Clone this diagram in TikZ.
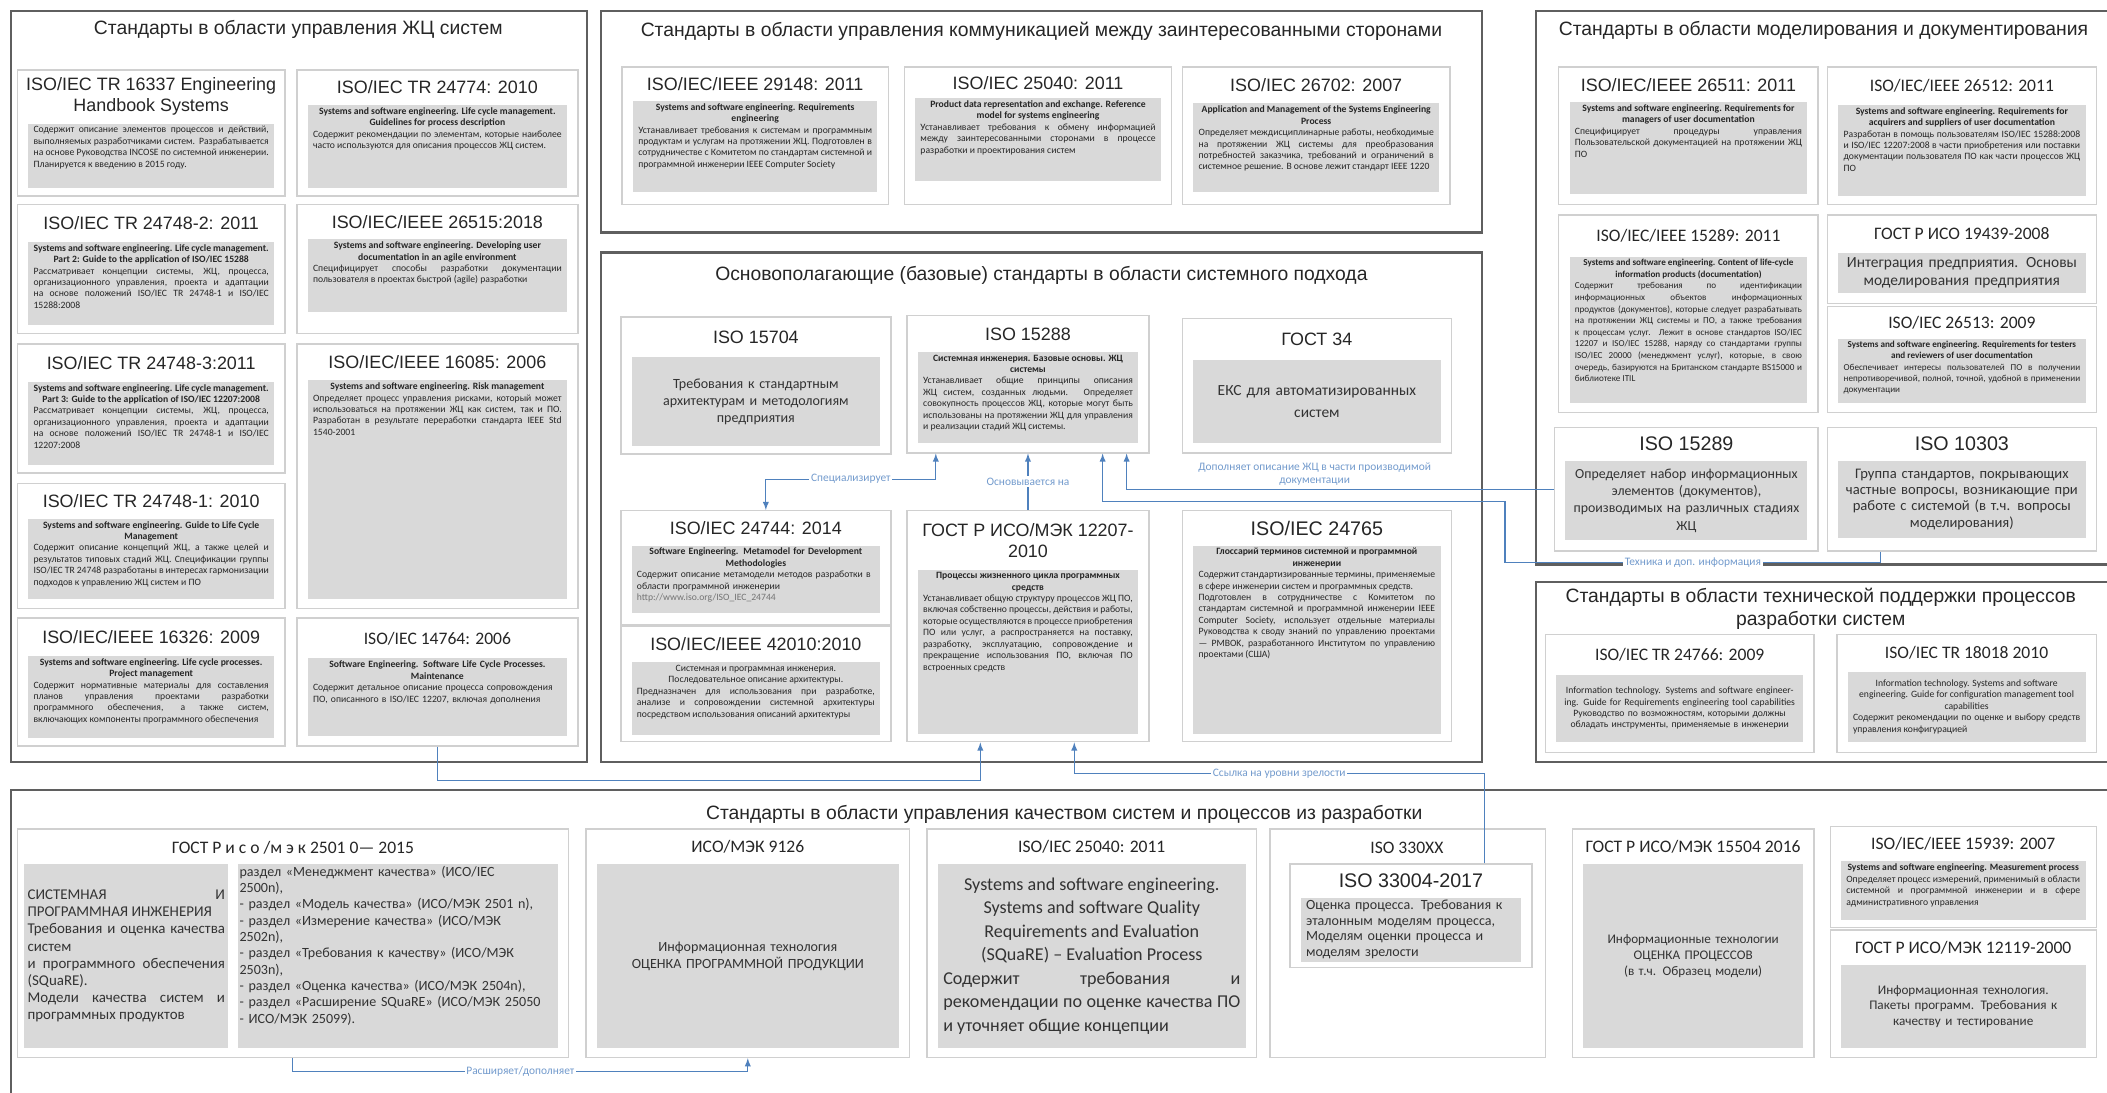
\documentclass[tikz,border=0pt]{standalone}
\usepackage{fontspec}
\setmainfont{Liberation Sans}
\newfontfamily\calfont{Carlito}
\usetikzlibrary{shapes,arrows,fit}

\definecolor{framegray}{RGB}{95,95,95}
\definecolor{boxgray}{RGB}{208,208,208}
\definecolor{descgray}{RGB}{217,217,217}
\definecolor{linkblue}{RGB}{79,129,189}
\definecolor{lblblue}{RGB}{115,155,205}

\tikzset{
  grp/.style={draw=framegray, line width=1.3pt},
  grptitle/.style={font=\fontsize{11}{13}\selectfont, text=black!85, align=center},
  stdframe/.style={draw=boxgray, line width=0.8pt, fill=white, inner sep=0pt},
  descr/.style={fill=descgray, inner sep=0pt},
  hdA/.style={font=\fontsize{10.2}{12}\selectfont, text=black!85, align=center},
  hdL/.style={font=\fontsize{11.2}{13}\selectfont, text=black!85, align=center},
  hdC/.style={font=\calfont\fontsize{10}{11.5}\selectfont, text=black!85, align=center},
  smalltext/.style={font=\calfont\fontsize{5.5}{6.5}\selectfont, align=justify, inner xsep=2.5pt, inner ysep=1.5pt, text=black!85},
  smallctr/.style={smalltext, align=center},
  midtext/.style={font=\calfont\fontsize{8}{9.8}\selectfont, align=center, inner sep=2.5pt, text=black!80},
  midlarge/.style={font=\calfont\fontsize{8.8}{10.6}\selectfont, align=center, inner sep=2.5pt, text=black!80},
  midsmall/.style={font=\calfont\fontsize{7.5}{9}\selectfont, align=center, inner sep=2.5pt, text=black!80},
  bigtext/.style={font=\calfont\fontsize{10.3}{13.4}\selectfont, align=justify, inner sep=2pt, text=black!80},
  listtext/.style={font=\calfont\fontsize{8}{9.3}\selectfont, align=left, inner sep=1pt, text=black!80},
  link/.style={draw=linkblue, line width=0.6pt, -latex},
  lbl/.style={font=\calfont\fontsize{6.5}{7.5}\selectfont, text=lblblue, fill=white, inner sep=1pt, align=center}
}

\newcommand{\hdline}[1]{{\centering\bfseries #1\par}}
\newcommand{\stdbox}[9]{%
  \node[stdframe, fit={(#2,#3) (#4,#5)}] (#1) {};
  \node[descr, fit={(#2+8,#6) (#4-8,#7)}] (#1g) {};
  \node[#8] (#1t) at ({(#2+#4)/2},{(#3+#6)/2}) {#9};
  \pgfmathsetmacro{\tw}{(#4-#2-24)*0.02688}}
\newcommand{\stdtext}[4]{%
  \node[text width=\tw cm, #3, anchor=#2] (#1b) at (#1g.#2) {#4};}

\begin{document}
\begin{tikzpicture}[x=0.02688cm, y=-0.02688cm]
\fill[white] (0,0) rectangle (1568,813);
\useasboundingbox (0,0) rectangle (1568,813);

\draw[grp] (8,8) rectangle (437,567);
\draw[grp] (447,8) rectangle (1103,173);
\draw[grp] (447,188) rectangle (1103,567);
\draw[grp] (1143,8) rectangle (1575,420);
\draw[grp] (1143,433) rectangle (1575,567);
\draw[grp] (8,588) rectangle (1580,830);

\node[grptitle] (g1) at (222,22) {Стандарты в области управления ЖЦ систем};
\node[grptitle] (g2) at (775,23) {Стандарты в области управления коммуникацией между заинтересованными сторонами};
\node[grptitle] (g3) at (775,205) {Основополагающие (базовые) стандарты в области системного подхода};
\node[grptitle] (g4) at (1357,23) {Стандарты в области моделирования и документирования};
\node[grptitle] (g5) at (1355,453) {Стандарты в области технической поддержки процессов\\разработки систем};
\node[grptitle] (g6) at (792,606) {Стандарты в области управления качеством систем и процессов из разработки};

\stdbox{i16337}{13}{52}{212}{146}{92}{140}{hdA}{ISO/IEC TR 16337 Engineering\\Handbook Systems}
\stdtext{i16337}{north}{smalltext}{Содержит описание элементов процессов и действий, выполняемых разработчиками систем. Разрабатывается на основе Руководства INCOSE по системной инженерии. Планируется к введению в 2015 году.}
\stdbox{i24774}{221}{52}{430}{146}{78}{140}{hdA}{ISO/IEC TR 24774: 2010}
\stdtext{i24774}{north}{smalltext}{\hdline{Systems and software engineering. Life cycle management. Guidelines for process description}Содержит рекомендации по элементам, которые наиболее часто используются для описания процессов ЖЦ систем.}
\stdbox{i24748b}{13}{152}{212}{248}{180}{242}{hdA}{ISO/IEC TR 24748-2: 2011}
\stdtext{i24748b}{north}{smalltext}{\hdline{Systems and software engineering. Life cycle management. Part 2: Guide to the application of ISO/IEC 15288}Рассматривает концепции системы, ЖЦ, процесса, организационного управления, проекта и адаптации на основе положений ISO/IEC TR 24748-1 и ISO/IEC 15288:2008}
\stdbox{i26515}{221}{152}{430}{248}{178}{232}{hdA}{ISO/IEC/IEEE 26515:2018}
\stdtext{i26515}{north}{smalltext}{\hdline{Systems and software engineering. Developing user documentation in an agile environment}Специфицирует способы разработки документации пользователя в проектах быстрой (agile) разработки}
\stdbox{i24748c}{13}{256}{212}{352}{284}{346}{hdA}{ISO/IEC TR 24748-3:2011}
\stdtext{i24748c}{north}{smalltext}{\hdline{Systems and software engineering. Life cycle management. Part 3: Guide to the application of ISO/IEC 12207:2008}Рассматривает концепции системы, ЖЦ, процесса, организационного управления, проекта и адаптации на основе положений ISO/IEC TR 24748-1 и ISO/IEC 12207:2008}
\stdbox{i16085}{221}{256}{430}{453}{283}{446}{hdA}{ISO/IEC/IEEE 16085: 2006}
\stdtext{i16085}{north}{smalltext}{\hdline{Systems and software engineering. Risk management}Определяет процесс управления рисками, который может использоваться на протяжении ЖЦ как систем, так и ПО. Разработан в результате переработки стандарта IEEE Std 1540-2001}
\stdbox{i24748a}{13}{360}{212}{453}{386}{446}{hdA}{ISO/IEC TR 24748-1: 2010}
\stdtext{i24748a}{north}{smalltext}{\hdline{Systems and software engineering. Guide to Life Cycle Management}Содержит описание концепций ЖЦ, а также целей и результатов типовых стадий ЖЦ. Спецификации группы ISO/IEC TR 24748 разработаны в интересах гармонизации подходов к управлению ЖЦ систем и ПО}
\stdbox{i16326}{13}{460}{212}{555}{488}{549}{hdA}{ISO/IEC/IEEE 16326: 2009}
\stdtext{i16326}{north}{smalltext}{\hdline{Systems and software engineering. Life cycle processes. Project management}Содержит нормативные материалы для составления планов управления проектами разработки программного обеспечения, а также систем, включающих компоненты программного обеспечения}
\stdbox{i14764}{221}{460}{430}{555}{490}{548}{hdC}{ISO/IEC 14764: 2006}
\stdtext{i14764}{north}{smalltext, align=left}{\hdline{Software Engineering. Software Life Cycle Processes. Maintenance}Содержит детальное описание процесса сопровождения ПО, описанного в ISO/IEC 12207, включая дополнения}

\stdbox{i29148}{463}{50}{661}{152}{75}{143}{hdA}{ISO/IEC/IEEE 29148: 2011}
\stdtext{i29148}{north}{smalltext}{\hdline{Systems and software engineering. Requirements engineering}Устанавливает требования к системам и программным продуктам и услугам на протяжении ЖЦ. Подготовлен в сотрудничестве с Комитетом по стандартам системной и программной инженерии IEEE Computer Society}
\stdbox{i25040a}{673}{50}{872}{152}{73}{135}{hdA}{ISO/IEC 25040: 2011}
\stdtext{i25040a}{north}{smalltext}{\hdline{Product data representation and exchange. Reference model for systems engineering}Устанавливает требования к обмену информацией между заинтересованными сторонами в процессе разработки и проектирования систем}
\stdbox{i26702}{880}{50}{1079}{152}{77}{143}{hdA}{ISO/IEC 26702: 2007}
\stdtext{i26702}{north}{smalltext}{\hdline{Application and Management of the Systems Engineering Process}Определяет междисциплинарные работы, необходимые на протяжении ЖЦ системы для преобразования потребностей заказчика, требований и ограничений в системное решение. В основе лежит стандарт IEEE 1220}

\stdbox{iso15704}{462}{236}{663}{338}{266}{332}{hdA}{ISO 15704}
\stdtext{iso15704}{center}{midtext}{Требования к стандартным\\архитектурам и методологиям\\предприятия}
\stdbox{iso15288}{675}{235}{855}{337}{262}{330}{hdA}{ISO 15288}
\stdtext{iso15288}{north}{smalltext}{\hdline{Системная инженерия. Базовые основы. ЖЦ системы}Устанавливает общие принципы описания ЖЦ систем, созданных людьми. Определяет совокупность процессов ЖЦ, которые могут быть использованы на протяжении ЖЦ для управления и реализации стадий ЖЦ системы.}
\stdbox{gost34}{880}{237}{1080}{337}{268}{330}{hdA}{ГОСТ 34}
\stdtext{gost34}{center}{midlarge}{ЕКС для автоматизированных\\[2pt]систем}
\stdbox{i24744}{462}{380}{663}{465}{406}{456}{hdA}{ISO/IEC 24744: 2014}
\stdtext{i24744}{north}{smalltext, align=left}{\hdline{Software Engineering. Metamodel for Development Methodologies}Содержит описание метамодели методов разработки в области программной инженерии\par{\color{black!55}http://www.iso.org/ISO\_IEC\_24744}}
\stdbox{i42010}{462}{466}{663}{552}{493}{547}{hdA}{ISO/IEC/IEEE 42010:2010}
\stdtext{i42010}{north}{smalltext}{{\centering Системная и программная инженерия. Последовательное описание архитектуры.\par}Предназначен для использования при разработке, анализе и сопровождении системной архитектуры посредством использования описаний архитектуры}
\stdbox{i12207}{675}{380}{855}{552}{424}{546}{hdA}{ГОСТ Р ИСО/МЭК 12207-\\2010}
\stdtext{i12207}{north}{smalltext}{\hdline{Процессы жизненного цикла программных средств}Устанавливает общую структуру процессов ЖЦ ПО, включая собственно процессы, действия и работы, которые осуществляются в процессе приобретения ПО или услуг, а распространяется на поставку, разработку, эксплуатацию, сопровождение и прекращение использования ПО, включая ПО встроенных средств}
\stdbox{i24765}{880}{380}{1080}{552}{406}{546}{hdL}{ISO/IEC 24765}
\stdtext{i24765}{north}{smalltext}{\hdline{Глоссарий терминов системной и программной инженерии}Содержит стандартизированные термины, применяемые в сфере инженерии систем и программных средств.\par Подготовлен в сотрудничестве с Комитетом по стандартам системной и программной инженерии IEEE Computer Society, использует отдельные материалы Руководства к своду знаний по управлению проектами — PMBOK, разработанного Институтом по управлению проектами (США)}

\stdbox{i26511}{1160}{50}{1353}{152}{76}{144}{hdA}{ISO/IEC/IEEE 26511: 2011}
\stdtext{i26511}{north}{smalltext}{\hdline{Systems and software engineering. Requirements for managers of user documentation}Специфицирует процедуры управления Пользовательской документацией на протяжении ЖЦ ПО}
\stdbox{i26512}{1360}{50}{1560}{152}{78}{146}{hdC}{ISO/IEC/IEEE 26512: 2011}
\stdtext{i26512}{north}{smalltext}{\hdline{Systems and software engineering. Requirements for acquirers and suppliers of user documentation}Разработан в помощь пользователям ISO/IEC 15288:2008 и ISO/IEC 12207:2008 в части приобретения или поставки документации пользователя ПО как части процессов ЖЦ ПО}
\stdbox{i15289b}{1160}{160}{1353}{307}{191}{300}{hdC}{ISO/IEC/IEEE 15289: 2011}
\stdtext{i15289b}{north}{smalltext, font=\calfont\fontsize{5.2}{6.6}\selectfont}{\hdline{Systems and software engineering. Content of life-cycle information products (documentation)}Содержит требования по идентификации информационных объектов информационных продуктов (документов), которые следует разрабатывать на протяжении ЖЦ системы и ПО, а также требования к процессам услуг. Лежит в основе стандартов ISO/IEC 12207 и ISO/IEC 15288, наряду со стандартами группы ISO/IEC 20000 (менеджмент услуг), которые, в свою очередь, базируются на Британском стандарте BS15000 и библиотеке ITIL}
\stdbox{i19439}{1360}{160}{1560}{226}{188}{218}{hdC}{ГОСТ Р ИСО 19439-2008}
\stdtext{i19439}{center}{midlarge, inner sep=0.5pt}{Интеграция предприятия. Основы\\моделирования предприятия}
\stdbox{i26513}{1360}{228}{1560}{307}{252}{300}{hdC}{ISO/IEC 26513: 2009}
\stdtext{i26513}{north}{smalltext, font=\calfont\fontsize{5.2}{6.4}\selectfont}{\hdline{Systems and software engineering. Requirements for testers and reviewers of user documentation}Обеспечивает интересы пользователей ПО в получении непротиворечивой, полной, точной, удобной в применении документации}
\stdbox{i15289}{1157}{318}{1353}{410}{343}{402}{hdL}{ISO 15289}
\stdtext{i15289}{center}{midlarge, font=\calfont\fontsize{7.9}{9.8}\selectfont, text width=4.82cm, inner sep=0.2pt}{Определяет набор информационных\\элементов (документов),\\производимых на различных стадиях\\ЖЦ}
\stdbox{i10303}{1360}{318}{1560}{410}{343}{400}{hdL}{ISO 10303}
\stdtext{i10303}{center}{midsmall, font=\calfont\fontsize{8.3}{9.3}\selectfont, inner sep=0.5pt}{Группа стандартов, покрывающих\\частные вопросы, возникающие при\\работе с системой (в т.ч. вопросы\\моделирования)}

\stdbox{i24766}{1150}{472}{1350}{560}{502}{552}{hdC}{ISO/IEC TR 24766: 2009}
\stdtext{i24766}{center}{smallctr}{Information technology. Systems and software engineering. Guide for Requirements engineering tool capabilities\\Руководство по возможностям, которыми должны обладать инструменты, применяемые в инженерии}
\stdbox{i18018}{1367}{472}{1560}{560}{500}{552}{hdC}{ISO/IEC TR 18018 2010}
\stdtext{i18018}{center}{smalltext}{{\centering Information technology. Systems and software engineering. Guide for configuration management tool capabilities\par}Содержит рекомендации по оценке и выбору средств управления конфигурацией}

\node[stdframe, fit={(13,617) (423,787)}] (i25010) {};
\node[descr, fit={(18,643) (170,780)}] (i25010g) {};
\node[descr, fit={(177,643) (415,780)}] (i25010h) {};
\node[hdC] (i25010t) at (218,631) {ГОСТ Р и с о /м э к 2501 0— 2015};
\node[listtext, font=\calfont\fontsize{8.5}{9.8}\selectfont, align=justify, text width=3.95cm] (i25010b) at (i25010g.center) {СИСТЕМНАЯ И\linebreak ПРОГРАММНАЯ ИНЖЕНЕРИЯ\\ Требования и оценка качества\linebreak систем\\ и программного обеспечения\linebreak (SQuaRE).\\ Модели качества систем и\linebreak программных продуктов};
\node[listtext, anchor=north west, text width=6.35cm] (i25010c) at (i25010h.north west) {раздел «Менеджмент качества» (ИСО/IEC\\ 2500n),\\ - раздел «Модель качества» (ИСО/МЭК 2501 n),\\ - раздел «Измерение качества» (ИСО/МЭК\\ 2502n),\\ - раздел «Требования к качеству» (ИСО/МЭК\\ 2503n),\\ - раздел «Оценка качества» (ИСО/МЭК 2504n),\\ - раздел «Расширение SQuaRE» (ИСО/МЭК 25050\\ - ИСО/МЭК 25099).};
\stdbox{i9126}{436}{617}{677}{787}{643}{780}{hdC}{ИСО/МЭК 9126}
\stdtext{i9126}{center}{midtext}{Информационная технология\\ОЦЕНКА ПРОГРАММНОЙ ПРОДУКЦИИ}
\stdbox{i25040b}{690}{617}{935}{787}{643}{780}{hdC}{ISO/IEC 25040: 2011}
\stdtext{i25040b}{center}{bigtext}{{\centering Systems and software engineering.\\Systems and software Quality\\Requirements and Evaluation\\(SQuaRE) – Evaluation Process\par}Содержит требования и рекомендации по оценке качества ПО и уточняет общие концепции}
\node[stdframe, fit={(945,617) (1150,787)}] (i330xx) {};
\node[hdC] (i330xxt) at (1047,631) {ISO 330XX};
\stdbox{i33004}{960}{643}{1140}{720}{668}{716}{hdL}{ISO 33004-2017}
\stdtext{i33004}{north}{midsmall, font=\calfont\fontsize{8}{8.8}\selectfont, align=left, inner sep=1.5pt}{Оценка процесса. Требования к\\эталонным моделям процесса,\\Моделям оценки процесса и\\моделям зрелости}
\stdbox{i15504}{1170}{617}{1350}{787}{643}{780}{hdC}{ГОСТ Р ИСО/МЭК 15504 2016}
\stdtext{i15504}{center}{midsmall}{Информационные технологии\\ОЦЕНКА ПРОЦЕССОВ\\(в т.ч. Образец модели)}
\stdbox{i15939}{1362}{615}{1560}{690}{641}{685}{hdC}{ISO/IEC/IEEE 15939: 2007}
\stdtext{i15939}{north}{smalltext}{\hdline{Systems and software engineering. Measurement process}Определяет процесс измерений, применимый в области системной и программной инженерии и в сфере административного управления}
\stdbox{i12119}{1362}{692}{1560}{787}{718}{780}{hdC}{ГОСТ Р ИСО/МЭК 12119-2000}
\stdtext{i12119}{center}{midsmall}{Информационная технология.\\Пакеты программ. Требования к\\качеству и тестирование}

\coordinate (bend1) at (1120,373);
\draw[link, latex-latex] ([xshift=0.59cm]iso15288.south west) -- ++(0,19) -| node[pos=0.25, lbl] {Специализирует} ([xshift=0.2cm]i24744.north);
\draw[link] (i12207.north) -- node[lbl] {Основывается на} (iso15288.south);
\draw[link] (i15289.west) -| node[pos=0.28, lbl, above=1pt, fill=none] {Дополняет описание ЖЦ в части производимой\\документации} ([xshift=-0.46cm]iso15288.south east);
\draw[link] ([xshift=1.08cm]i10303.south west) -- ++(0,8) -| node[pos=0.25, lbl] {Техника и доп. информация} (bend1) -| ([xshift=-0.94cm]iso15288.south east);
\draw[link] (i14764.south) -- ++(0,25) -| ([xshift=1.48cm]i12207.south west);
\draw[link] ([xshift=3.9cm]i33004.north west) -- ++(0,-67) -| node[pos=0.25, lbl] {Ссылка на уровни зрелости} ([xshift=3.36cm]i12207.south west);
\draw[link] (i25010.south) -- ++(0,10) -| node[pos=0.25, lbl] {Расширяет/дополняет} (i9126.south);
\end{tikzpicture}
\end{document}
